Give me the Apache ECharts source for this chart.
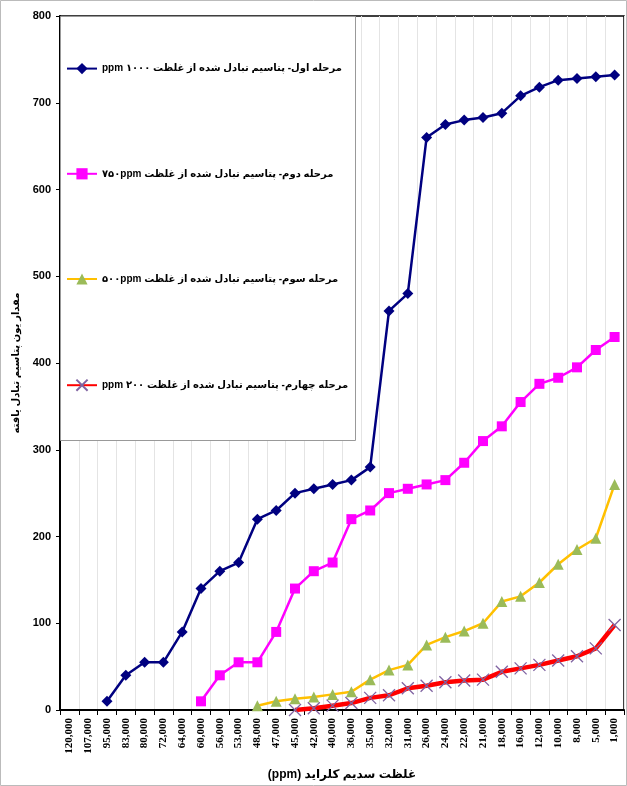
<!DOCTYPE html>
<html>
<head>
<meta charset="utf-8">
<script src="https://cdn.jsdelivr.net/npm/echarts@6/dist/echarts.min.js"></script>
<style>
  html, body { margin: 0; padding: 0; background: #fff; }
  #chart { width: 627px; height: 786px; }
</style>
</head>
<body>
<div id="chart"></div>
<script>
// NaCl concentration (ppm), highest to lowest
const categories = ['120,000', '107,000', '95,000', '83,000', '80,000', '72,000', '64,000', '60,000',
  '56,000', '53,000', '48,000', '47,000', '45,000', '42,000', '40,000', '36,000', '35,000', '32,000',
  '31,000', '26,000', '24,000', '22,000', '21,000', '18,000', '16,000', '12,000', '10,000', '8,000',
  '5,000', '1,000'];

const stage1 = [null, null, 10, 40, 55, 55, 90, 140, 160, 170, 220, 230, 250, 255, 260, 265, 280,
  460, 480, 660, 675, 680, 683, 688, 708, 718, 726, 728, 730, 732];
const stage2 = [null, null, null, null, null, null, null, 10, 40, 55, 55, 90, 140, 160, 170, 220,
  230, 250, 255, 260, 265, 285, 310, 327, 355, 376, 383, 395, 415, 430];
const stage3 = [null, null, null, null, null, null, null, null, null, null, 5, 10, 13, 15, 18, 21,
  35, 46, 52, 75, 84, 91, 100, 125, 131, 147, 168, 185, 198, 260];
const stage4 = [null, null, null, null, null, null, null, null, null, null, null, null, 0, 2, 5, 8,
  14, 17, 25, 28, 32, 34, 35, 44, 48, 52, 57, 62, 71, 98];

// RLE ... PDF so the mixed persian / latin text keeps its right-to-left order
const rtl = (s) => '\u202B' + s + '\u202C';
const names = [
  rtl('مرحله اول- پتاسیم تبادل شده از غلظت ۱۰۰۰ ppm'),
  rtl('مرحله دوم- پتاسیم تبادل شده از غلظت ۷۵۰ppm'),
  rtl('مرحله سوم- پتاسیم تبادل شده از غلظت ۵۰۰ppm'),
  rtl('مرحله چهارم- پتاسیم تبادل شده از غلظت ۲۰۰ ppm'),
];
const xName = rtl('غلظت سدیم کلراید (ppm)');
const yName = rtl('مقدار یون پتاسیم تبادل یافته');

const sansFont = 'Arial, "Liberation Sans", "DejaVu Sans", sans-serif';
const serifFont = '"Times New Roman", "Liberation Serif", serif';

const myChart = echarts.init(document.getElementById('chart'));

const option = {
  backgroundColor: '#fff',
  animation: false,
  grid: {
    left: 60,
    right: 3,
    top: 16,
    bottom: 76,
    show: true,
    borderColor: '#000',
    borderWidth: 1.5,
    backgroundColor: 'transparent',
  },
  graphic: [
    {
      type: 'rect',
      z: 0,
      silent: true,
      shape: { x: 0.5, y: 0.5, width: 626, height: 785 },
      style: { fill: 'none', stroke: '#bbb', lineWidth: 1 },
    },
    {
      type: 'rect',
      z: 50,
      silent: true,
      shape: { x: 60.5, y: 16.5, width: 295, height: 424 },
      style: { fill: '#fff', stroke: '#999', lineWidth: 1 },
    },
  ],
  legend: {
    orient: 'vertical',
    left: 66,
    top: 63,
    padding: 0,
    itemGap: 94,
    itemWidth: 30,
    itemHeight: 14,
    z: 60,
    data: names,
    textStyle: {
      color: '#000',
      fontSize: 10,
      fontWeight: 'bold',
      fontFamily: sansFont,
    },
  },
  xAxis: {
    type: 'category',
    data: categories,
    boundaryGap: true,
    name: xName,
    nameLocation: 'middle',
    nameGap: 59,
    nameTextStyle: {
      color: '#000',
      fontSize: 12,
      fontWeight: 'bold',
      fontFamily: sansFont,
    },
    axisLine: { lineStyle: { color: '#000', width: 2 } },
    axisTick: { show: true, length: 5, lineStyle: { color: '#000' } },
    axisLabel: {
      rotate: 90,
      interval: 0,
      margin: 8,
      color: '#000',
      fontSize: 11,
      fontWeight: 'bold',
      fontFamily: serifFont,
    },
    splitLine: {
      show: true,
      lineStyle: { color: '#e4e4e4', width: 1 },
    },
  },
  yAxis: {
    type: 'value',
    min: 0,
    max: 800,
    interval: 100,
    name: yName,
    nameLocation: 'middle',
    nameGap: 36,
    nameTextStyle: {
      color: '#000',
      fontSize: 10,
      fontWeight: 'bold',
      fontFamily: sansFont,
    },
    axisLine: { show: true, lineStyle: { color: '#000', width: 2 } },
    axisTick: { show: true, length: 4, lineStyle: { color: '#000' } },
    axisLabel: {
      margin: 9,
      color: '#000',
      fontSize: 11,
      fontWeight: 'bold',
      fontFamily: sansFont,
    },
    splitLine: { show: false },
  },
  series: [
    {
      name: names[0],
      type: 'line',
      data: stage1,
      symbol: 'diamond',
      symbolSize: 11,
      lineStyle: { color: '#000080', width: 2.5 },
      itemStyle: { color: '#000080' },
    },
    {
      name: names[1],
      type: 'line',
      data: stage2,
      symbol: 'rect',
      symbolSize: 10,
      lineStyle: { color: '#ff00ff', width: 2.5 },
      itemStyle: { color: '#ff00ff' },
    },
    {
      name: names[2],
      type: 'line',
      data: stage3,
      symbol: 'triangle',
      symbolSize: 11,
      lineStyle: { color: '#ffc000', width: 2.5 },
      itemStyle: { color: '#9bbb59' },
    },
    {
      name: names[3],
      type: 'line',
      data: stage4,
      symbol: 'path://M0,0L10,10M10,0L0,10',
      symbolSize: 12,
      lineStyle: { color: '#ff0000', width: 4.5 },
      itemStyle: { color: 'transparent', borderColor: '#8064a2', borderWidth: 1.3 },
    },
  ],
};

myChart.setOption(option);
</script>
</body>
</html>
